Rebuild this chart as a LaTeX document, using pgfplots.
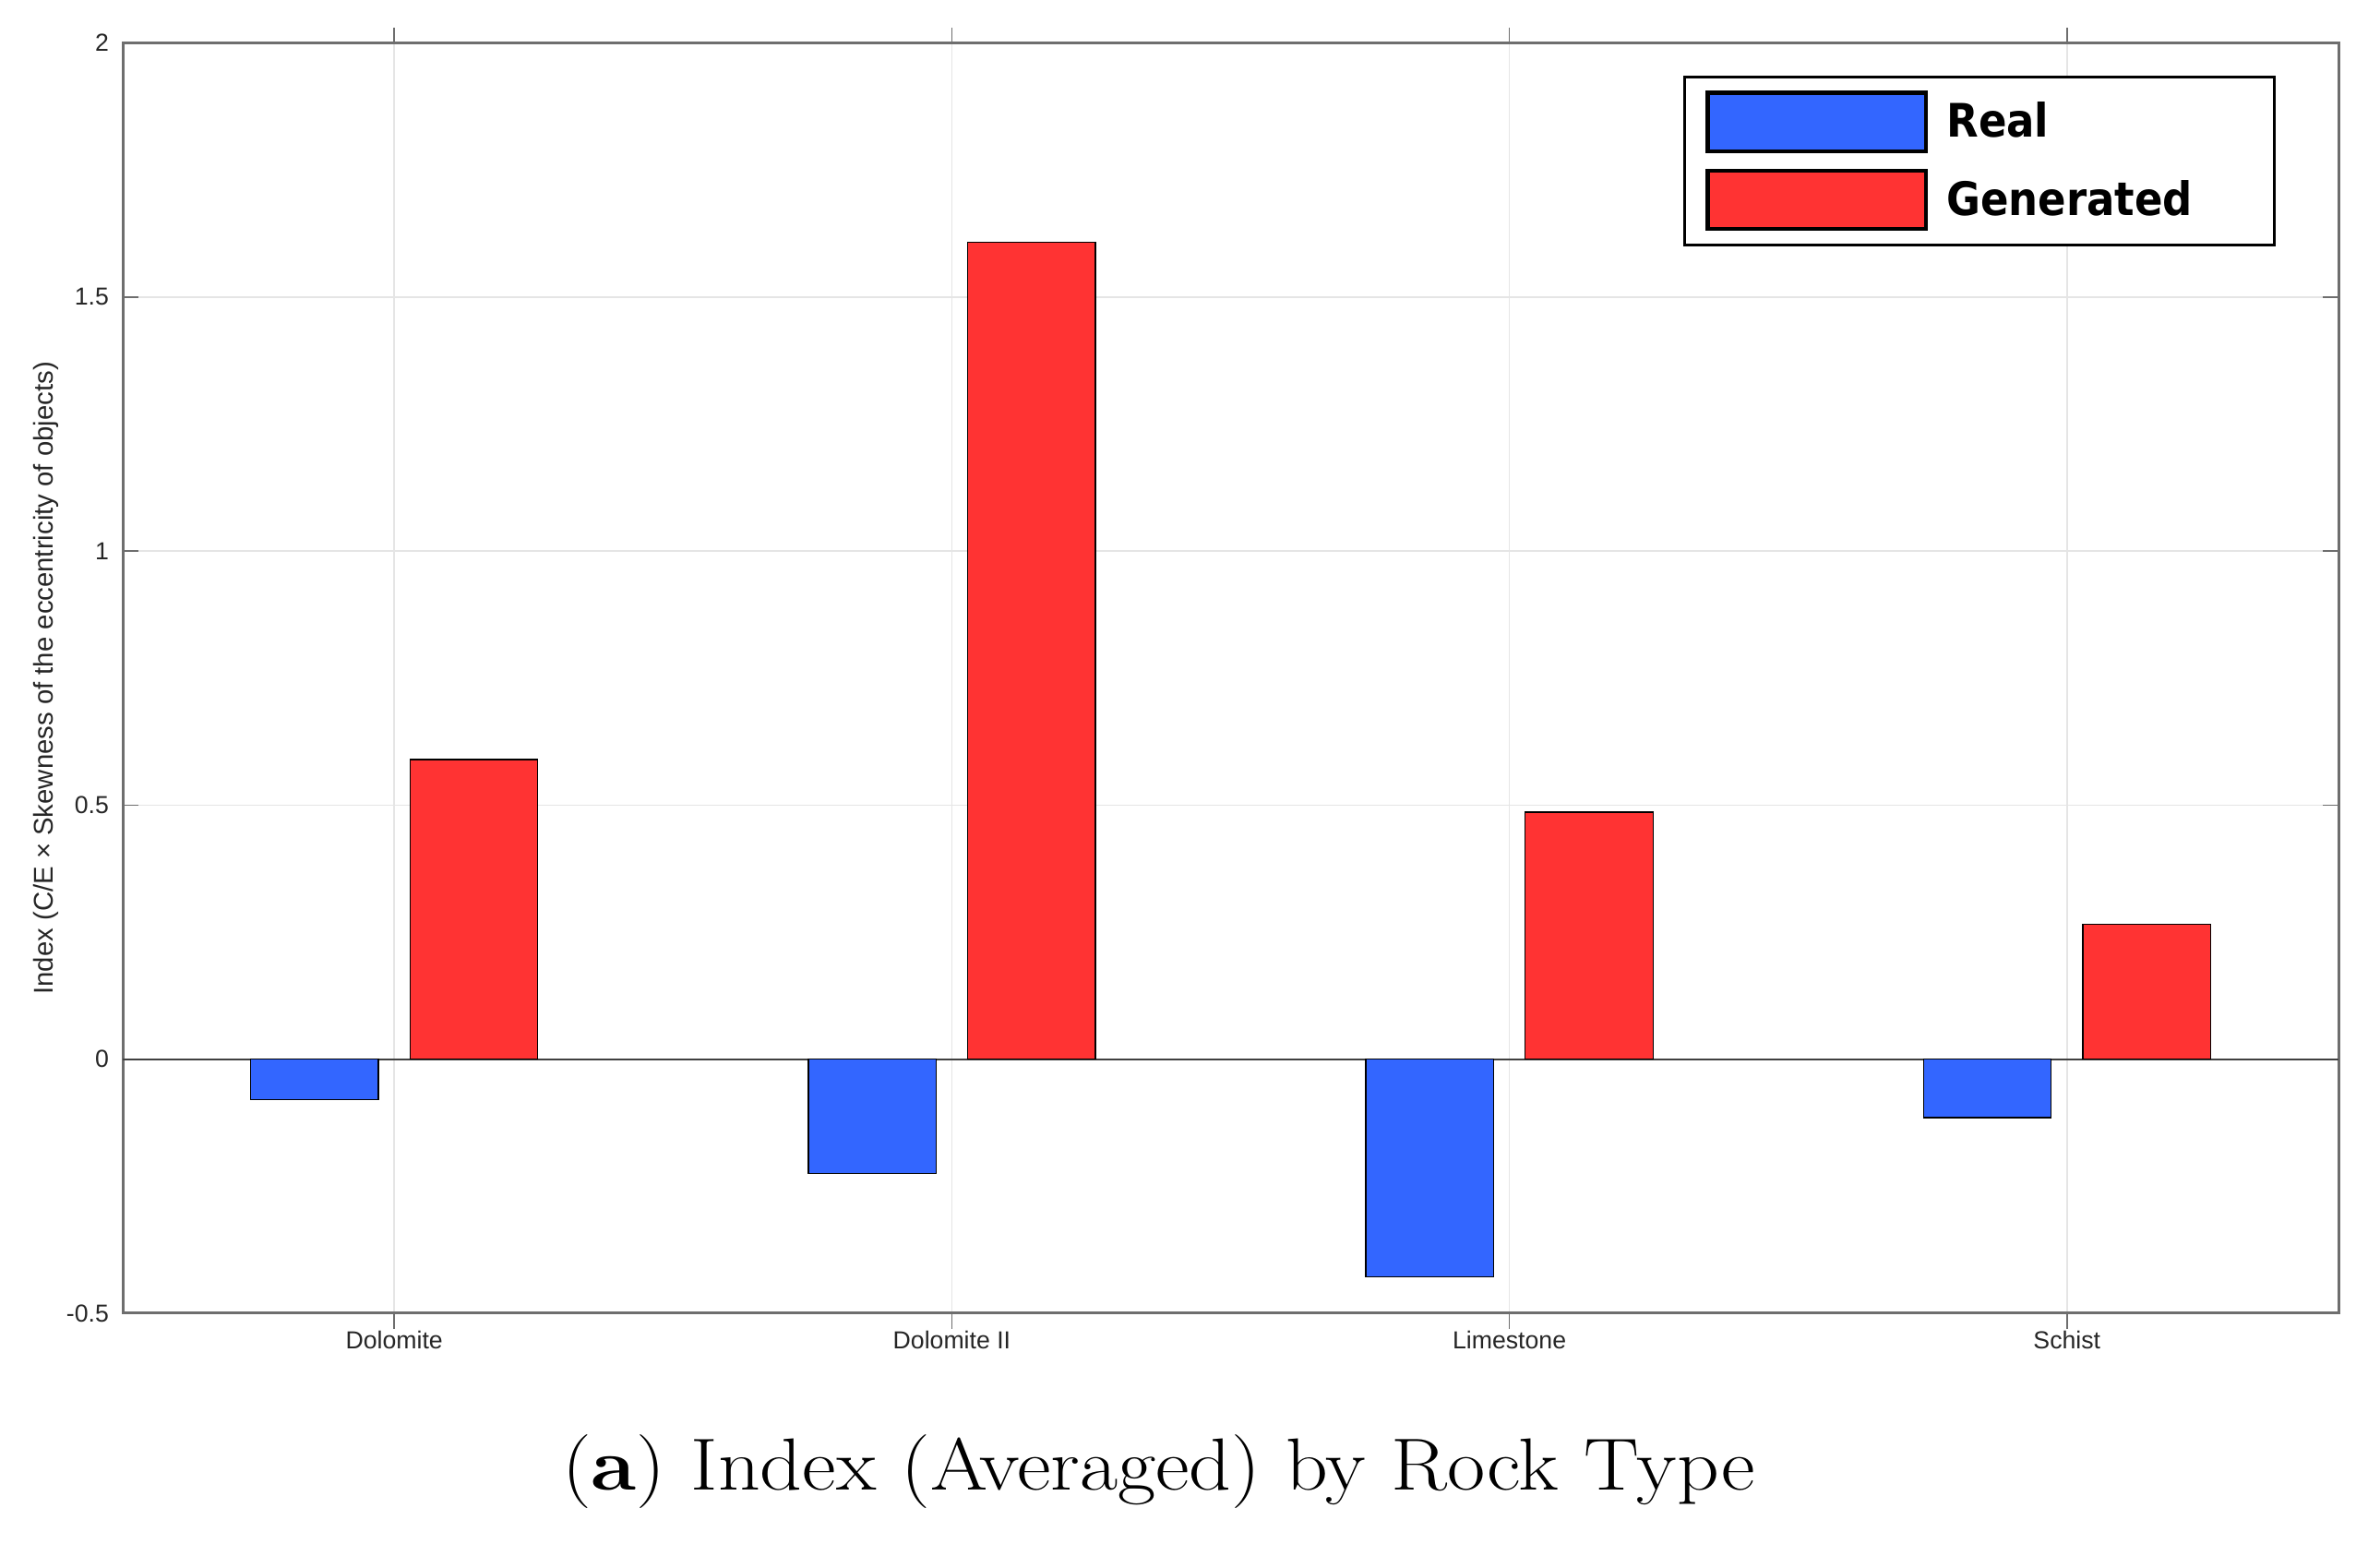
\documentclass[border=0pt]{standalone}
\usepackage{fontspec}
\setsansfont{Liberation Sans}
\newfontfamily\legfont{DejaVu Sans Condensed}
\usepackage{pgfplots}
\pgfplotsset{compat=1.18}
\definecolor{realblue}{RGB}{51,102,255}
\definecolor{genred}{RGB}{255,51,51}
\definecolor{axgray}{RGB}{110,110,110}
\definecolor{txtgray}{RGB}{38,38,38}
\begin{document}
\begin{tikzpicture}
\begin{axis}[
  scale only axis,
  width=720.3pt, height=412.9pt,
  xmin=0.513, xmax=4.487,
  ymin=-0.5, ymax=2,
  xtick={1,2,3,4},
  xticklabels={Dolomite, Dolomite II, Limestone, Schist},
  ytick={-0.5,0,0.5,1,1.5,2},
  yticklabels={-0.5,0,0.5,1,1.5,2},
  extra y ticks={0},
  extra y tick labels={},
  extra y tick style={grid=major, major grid style={black!75, line width=0.6pt}, major tick length=0pt},
  tick pos=both,
  tick align=inside,
  major tick length=5pt,
  tick style={axgray, line width=0.5pt},
  axis line style={axgray, line width=0.9pt},
  grid=major,
  major grid style={black!10, line width=0.5pt},
  ticklabel style={font=\sffamily\fontsize{8}{9}\selectfont, text=txtgray},
  /pgf/number format/assume math mode=true,
  xticklabel style={yshift=2.7pt},
  yticklabel style={xshift=-1pt},
  ylabel={Index (C/E × Skewness of the eccentricity of objects)},
  ylabel style={font=\sffamily\fontsize{8.8}{10}\selectfont, text=txtgray, at={(axis description cs:-0.0346,0.5)}, anchor=center},
  ybar,
  bar width=0.229,
  legend cell align=left,
  legend image code/.code={\draw[#1, draw=black, line width=1.3pt] (0pt,-9.5pt) rectangle (71pt,9.5pt);},
  legend style={at={(axis description cs:1,1)}, anchor=north east, xshift=-20.4pt, yshift=-10.5pt,
    draw=black, line width=0.9pt, inner xsep=7pt, inner ysep=4.6pt, row sep=5pt,
    nodes={inner sep=0pt},
    font=\legfont\bfseries\fontsize{15}{17}\selectfont,
    /tikz/every odd column/.append style={column sep=6pt}},
]
\addplot[fill=realblue, draw=black, line width=0.4pt, bar shift=-0.143]
  coordinates {(1,-0.079) (2,-0.225) (3,-0.428) (4,-0.115)};
\addlegendentry{Real}
\addplot[fill=genred, draw=black, line width=0.4pt, bar shift=0.143]
  coordinates {(1,0.590) (2,1.608) (3,0.486) (4,0.265)};
\addlegendentry{Generated\hspace*{19.5pt}}
\end{axis}
\node[anchor=base, inner sep=0pt] at (336.75pt,-57.6pt) {\scalebox{1.12}[1]{\fontsize{24}{28}\selectfont(\textbf{a}) Index (Averaged) by Rock Type}};
\pgfresetboundingbox
\path[use as bounding box] (-39.9pt,-75pt) rectangle (733.8pt,426.9pt);
\end{tikzpicture}
\end{document}
